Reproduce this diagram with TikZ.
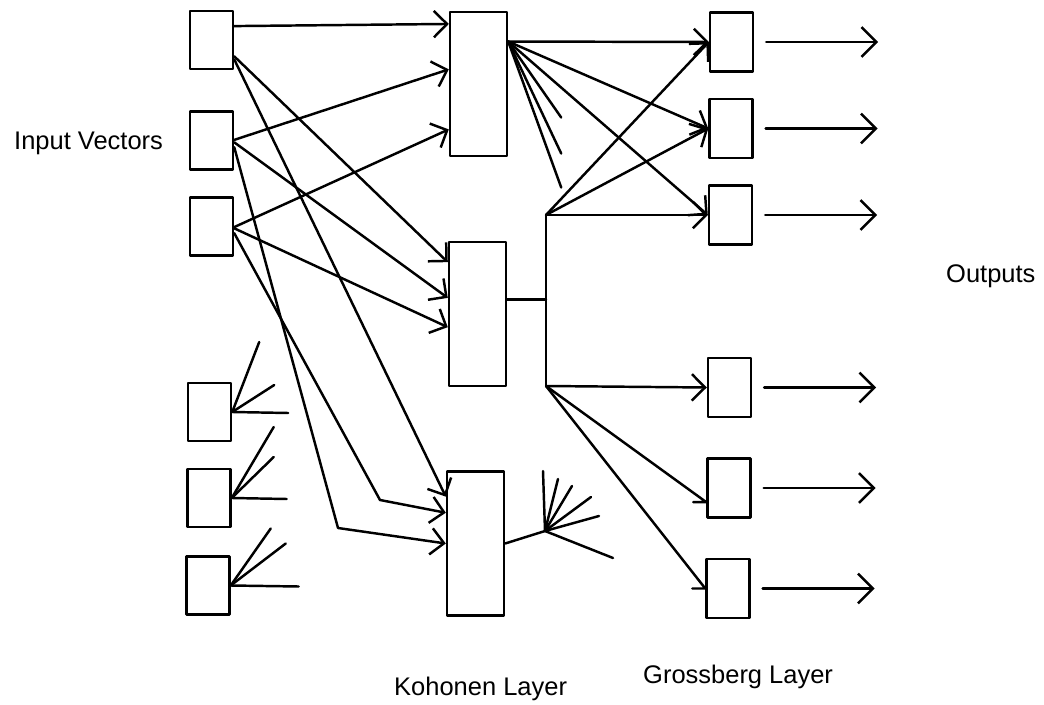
\documentclass[tikz,border=0pt]{standalone}
\usepackage{fontspec}
\setmainfont{Liberation Sans}
\usetikzlibrary{arrows.meta,calc}
\begin{document}
\begin{tikzpicture}[x=0.02cm,y=-0.02cm,
  line width=1.4pt, line join=round, line cap=round,
  ibox/.style={draw, rectangle, inner sep=0pt, minimum width=0.86cm, minimum height=1.16cm},
  kbox/.style={draw, rectangle, inner sep=0pt, minimum width=1.14cm, minimum height=2.88cm},
  gbox/.style={draw, rectangle, inner sep=0pt, minimum width=0.86cm, minimum height=1.18cm},
  conn/.style={-{Straight Barb[length=7.5pt,width=15pt]}},
  outarr/.style={-{Straight Barb[length=8.5pt,width=17pt]}},
  lbl/.style={font=\fontsize{14.5}{17}\selectfont, inner sep=0pt, anchor=base west}
]
\useasboundingbox (0,0) rectangle (1044,705);

% input layer
\node[ibox] (I1) at (211.5,40) {};
\node[ibox] (I2) at (211.5,140.5) {};
\node[ibox] (I3) at (211.5,226.5) {};
\node[ibox] (I4) at (209.5,412) {};
\node[ibox] (I5) at (209,498) {};
\node[ibox] (I6) at (208,585.5) {};

% Kohonen layer
\node[kbox] (K1) at (478.5,84) {};
\node[kbox] (K2) at (477.5,314) {};
\node[kbox] (K3) at (475.5,543.5) {};

% Grossberg layer
\node[gbox] (G1) at (731.5,42) {};
\node[gbox] (G2) at (731,128.5) {};
\node[gbox] (G3) at (730.5,215) {};
\node[gbox] (G4) at (729.5,387.5) {};
\node[gbox] (G5) at (729,488) {};
\node[gbox] (G6) at (728,588.5) {};

% labels
\node[lbl] (lin) at (13,150) {Input Vectors};
\node[lbl] (lko) at (393,695) {Kohonen Layer};
\node[lbl] (lgr) at (642,683) {Grossberg Layer};
\node[lbl] (lout) at (945,283) {Outputs};

% helper coordinates
\coordinate (b1) at (338,528);
\coordinate (b2) at (380,500);
\coordinate (jt) at (546,215);
\coordinate (jb) at (546,386);
\coordinate (kf) at (545,531);

% input -> Kohonen
\draw[conn] ($(I1.north east)!0.27!(I1.south east)$) -- ($(K1.north west)!0.09!(K1.south west)$);
\draw[conn] ($(I1.north east)!0.77!(I1.south east)$) -- ($(K2.north west)!0.146!(K2.south west)$);
\draw[conn] ($(I1.north east)!0.82!(I1.south east)$) -- ($(K3.north west)!0.18!(K3.south west)$);
\draw[conn] ($(I2.north east)!0.49!(I2.south east)$) -- ($(K1.north west)!0.40!(K1.south west)$);
\draw[conn] ($(I2.north east)!0.53!(I2.south east)$) -- ($(K2.north west)!0.39!(K2.south west)$);
\draw[conn] ($(I2.north east)!0.61!(I2.south east)$) -- (b1) -- ($(K3.north west)!0.50!(K3.south west)$);
\draw[conn] ($(I3.north east)!0.51!(I3.south east)$) -- ($(K1.north west)!0.81!(K1.south west)$);
\draw[conn] ($(I3.north east)!0.53!(I3.south east)$) -- ($(K2.north west)!0.59!(K2.south west)$);
\draw[conn] ($(I3.north east)!0.61!(I3.south east)$) -- (b2) -- ($(K3.north west)!0.29!(K3.south west)$);

% incoming fans of the lower input units
\draw (I4.east) -- ++(27,-70);
\draw (I4.east) -- ++(42,-27);
\draw (I4.east) -- ++(56,1);
\draw (I5.east) -- ++(42,-71);
\draw (I5.east) -- ++(42,-41);
\draw (I5.east) -- ++(55,1);
\draw (I6.east) -- ++(40,-57);
\draw (I6.east) -- ++(55,-42);
\draw (I6.east) -- ++(68,1);

% Kohonen 1 -> Grossberg
\coordinate (k1e) at ($(K1.north east)!0.21!(K1.south east)$);
\draw[conn] (k1e) -- (G1.west);
\draw[conn] (k1e) -- (G2.west);
\draw[conn] (k1e) -- (G3.west);
\draw (k1e) -- ++(53,76);
\draw (k1e) -- ++(53,112);
\draw (k1e) -- ++(53,146);

% Kohonen 2 -> junction -> Grossberg
\coordinate (k2e) at ($(K2.north east)!0.40!(K2.south east)$);
\draw (k2e) -- (k2e -| jt);
\draw (jt) -- (jb);
\draw[conn] (jt) -- (G1.west);
\draw[conn] (jt) -- (G2.west);
\draw[conn] (jt) -- (G3.west);
\draw[conn] (jb) -- (G4.west);
\draw (jb) -- ($(G5.north west)!0.73!(G5.south west)$) -- ++(-13,0);
\draw (jb) -- (G6.west) -- ++(-13,0);

% Kohonen 3 fan
\draw (K3.east) -- (kf);
\draw (kf) -- ++(-2,-60);
\draw (kf) -- ++(13,-52);
\draw (kf) -- ++(27,-45);
\draw (kf) -- ++(46,-34);
\draw (kf) -- ++(54,-15);
\draw (kf) -- ++(68,27);

% outputs
\draw[outarr] ([xshift=6.8pt]G1.east) -- ++(112,0);
\draw[outarr] ([xshift=6.8pt]G2.east) -- ++(112,0);
\draw[outarr] ([xshift=6.8pt]G3.east) -- ++(112,0);
\draw[outarr] ([xshift=6.8pt]G4.east) -- ++(112,0);
\draw[outarr] ([xshift=6.8pt]G5.east) -- ++(112,0);
\draw[outarr] ([xshift=6.8pt]G6.east) -- ++(112,0);
\end{tikzpicture}
\end{document}
